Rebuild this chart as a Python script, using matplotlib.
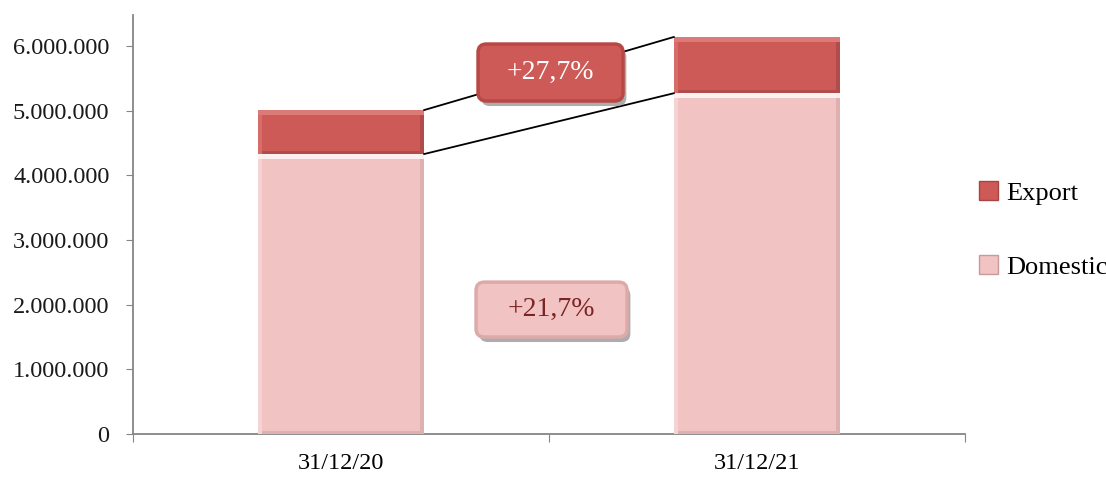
import matplotlib
matplotlib.use("Agg")
import matplotlib.pyplot as plt
from matplotlib.patches import Patch, FancyBboxPatch
from matplotlib.ticker import FuncFormatter

categories = ["31/12/20", "31/12/21"]
domestic = [4330000, 5270000]
export = [680000, 870000]
growth_labels = ["+27,7%", "+21,7%"]

plt.rcParams['font.family'] = ['Liberation Serif', 'DejaVu Serif']

fig = plt.figure(figsize=(11.06, 4.78), dpi=100)
ax = fig.add_axes([133/1106, 1-434/478, 832/1106, 419/478])

x = list(range(len(categories)))
w = 0.4
col_exp = "#cd5a57"
col_dom = "#f2c3c3"

ax.bar(x, domestic, width=w, color=col_dom, edgecolor="none", zorder=2)
ax.bar(x, export, width=w, bottom=domestic, color=col_exp, edgecolor="none", zorder=2)

# bevel effects
bx = 0.011
by = 70000
for i in x:
    for base, h, light, dark, top_c in [(0, domestic[i], "#f6d3d3", "#deb0b0", "#fdf0f0"),
                                        (domestic[i], export[i], "#d86c69", "#b04c49", "#dc7a77")]:
        ax.bar(i, by, width=w, bottom=base + h - by, color=top_c, edgecolor="none", zorder=3)
        ax.bar(i, by * 0.7, width=w, bottom=base, color=dark, edgecolor="none", zorder=3)
        ax.bar(i - w/2 + bx/2, h - by, width=bx, bottom=base, color=light, edgecolor="none", zorder=3)
        ax.bar(i + w/2 - bx/2, h - by, width=bx, bottom=base, color=dark, edgecolor="none", zorder=3)

# connecting lines
tot = [d + e for d, e in zip(domestic, export)]
ax.plot([x[0] + w/2, x[1] - w/2], [tot[0], tot[1]], color="black", lw=1.3, zorder=4)
ax.plot([x[0] + w/2, x[1] - w/2], [domestic[0], domestic[1]], color="black", lw=1.3, zorder=4)

# annotation boxes (axes fraction)
def box(x0, y0, bw, bh, fc, ec, text, tc):
    sh = FancyBboxPatch((x0 + 0.004, y0 - 0.012), bw, bh,
                        boxstyle="round,pad=0,rounding_size=0.01", mutation_aspect=1.99,
                        transform=ax.transAxes, fc="#8a8a8a", ec="none", alpha=0.7, zorder=5, clip_on=False)
    ax.add_patch(sh)
    p = FancyBboxPatch((x0, y0), bw, bh,
                       boxstyle="round,pad=0,rounding_size=0.01", mutation_aspect=1.99,
                       transform=ax.transAxes, fc=fc, ec=ec, lw=2.5, zorder=6, clip_on=False)
    ax.add_patch(p)
    ax.text(x0 + bw/2, y0 + bh/2, text, transform=ax.transAxes, ha="center", va="center",
            fontsize=20, color=tc, zorder=7)

box(0.4147, 0.7947, 0.1743, 0.136, col_exp, "#b84844", growth_labels[0], "white")
box(0.4123, 0.2315, 0.1815, 0.131, col_dom, "#ddaaaa", growth_labels[1], "#7a2525")

ax.set_xlim(-0.5, 1.5)
ax.set_ylim(0, 6480000)
ax.set_yticks(range(0, 6000001, 1000000))
ax.yaxis.set_major_formatter(FuncFormatter(lambda v, p: f"{int(v):,}".replace(",", ".")))
ax.set_xticks([-0.5, 0.5, 1.5])
ax.set_xticklabels([])
ax.set_xticks(x, minor=True)
ax.set_xticklabels(categories, minor=True)
ax.tick_params(axis="x", which="minor", length=0, pad=14, labelsize=17.5)
ax.tick_params(axis="x", which="major", length=6, color="#868686", direction="out")
ax.tick_params(axis="y", length=5, color="#868686", pad=12, labelsize=17.5, labelcolor="#1a1a1a")
ax.tick_params(axis="x", labelcolor="#1a1a1a")
for s in ["top", "right"]:
    ax.spines[s].set_visible(False)
for s in ["left", "bottom"]:
    ax.spines[s].set_color("#868686")
    ax.spines[s].set_linewidth(1.3)

handles = [Patch(facecolor=col_exp, edgecolor="#a64542", label="Export"),
           Patch(facecolor=col_dom, edgecolor="#c99a9a", label="Domestic")]
fig.legend(handles=handles, loc="center left", bbox_to_anchor=(968/1106, 1-230/478),
           frameon=False, fontsize=19, handlelength=0.75, handleheight=0.75,
           handletextpad=0.3, labelspacing=1.9, borderaxespad=0)

fig.savefig("out.png", dpi=100)
